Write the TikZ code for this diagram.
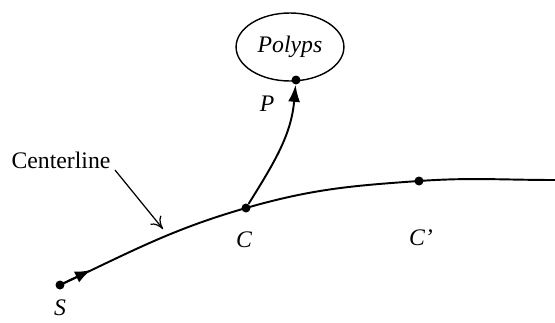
\documentclass[tikz,border=0pt]{standalone}
\usepackage{fontspec}
\setmainfont{Liberation Serif}
\usetikzlibrary{arrows.meta, shapes.geometric}

\begin{document}
\begin{tikzpicture}[
    x=0.02cm, y=0.02cm,
    dot/.style={circle, fill=black, inner sep=0pt, minimum size=1.8mm},
    lbl/.style={font=\fontsize{13.5}{16}\selectfont\itshape},
    path/.style={line width=1.1pt},
    pointer/.style={line width=0.7pt, -{To[length=2.4mm, width=2.8mm]}}
]
\useasboundingbox (0,0) rectangle (555,322);

% polyp region
\node[ellipse, draw, line width=0.8pt, minimum width=2.08cm, minimum height=1.36cm, lbl] (polyps) at (290,275) {Polyps};

% points on the centerline
\node[dot] (S) at (60,37) {};
\node[dot] (C) at (246,114) {};
\node[dot] (Cp) at (419,141) {};
\node[dot] (P) at (296,242) {};
\coordinate (end) at (555,142);
\coordinate (sarr) at (91,52);

\draw[path] (S.center) to[out=25,in=196] (C.center) to[out=16,in=184] (Cp.center) to[out=4,in=180] (end);
\draw[path, -{Latex[length=3.2mm, width=2.4mm]}] (S.center) -- (sarr);
\draw[path, -{Latex[length=3.4mm, width=2.4mm]}] (C) to[out=58,in=265] (P);

\node[lbl] (Slbl) at (60,14) {S};
\node[lbl] (Clbl) at (244,82) {C};
\node[lbl] (Cplbl) at (421,84) {C'};
\node[lbl] (Plbl) at (267,218) {P};

\node[font=\fontsize{13.5}{16}\selectfont] (cl) at (61,162) {Centerline};
\coordinate (clfrom) at (115,152);
\coordinate (clto) at (163,93);
\draw[pointer] (clfrom) -- (clto);

\end{tikzpicture}
\end{document}
